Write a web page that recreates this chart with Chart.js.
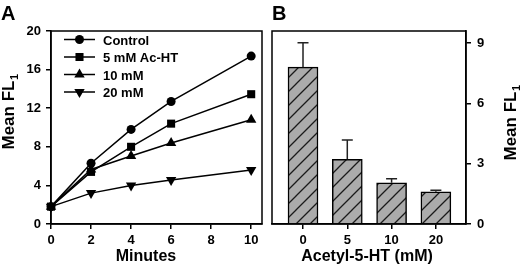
<!DOCTYPE html>
<html>
<head>
<meta charset="utf-8">
<script src="https://cdn.jsdelivr.net/npm/chart.js@4.4.1/dist/chart.umd.min.js"></script>
<style>
  body { margin: 0; background: #fff; }
  #wrap { position: relative; width: 520px; height: 270px; background: #fff; }
  canvas { position: absolute; top: 0; }
  #chart-a { left: 0; }
  #chart-b { left: 268px; }
</style>
</head>
<body>
<div id="wrap">
  <canvas id="chart-a" width="268" height="270"></canvas>
  <canvas id="chart-b" width="252" height="270"></canvas>
</div>
<script>
// ---- panel A: time course ----
const minutes = [0, 2, 4, 6, 10];
const control = [1.8, 6.3, 9.8, 12.7, 17.4];
const acHT5 = [1.8, 5.4, 8.0, 10.4, 13.45];
const acHT10 = [1.8, 5.65, 7.05, 8.4, 10.8];
const acHT20 = [1.8, 3.2, 4.0, 4.55, 5.6];
const seriesNames = ["Control", "5 mM Ac-HT", "10 mM", "20 mM"];
const minuteTicks = [0, 2, 4, 6, 8, 10];
const flTicksA = [0, 4, 8, 12, 16, 20];

// ---- panel B: dose response ----
const concLabels = ["0", "5", "10", "20"];
const meanFL = [7.8, 3.22, 2.05, 1.6];
const meanFLErr = [1.22, 0.96, 0.2, 0.08];
const flTicksB = [0, 3, 6, 9];

const FONT = "'Liberation Sans', Arial, Helvetica, sans-serif";
Chart.defaults.font.family = FONT;
Chart.defaults.font.weight = "bold";
Chart.defaults.color = "#000";

// marker styles per series
const markers = [
  { style: "circle", radius: 4.5, rotation: 0 },
  { style: "rect", radius: 5.7, rotation: 0 },
  { style: "triangle", radius: 6, rotation: 0 },
  { style: "triangle", radius: 6, rotation: 180 }
];

function drawMarker(ctx, m, x, y) {
  ctx.save();
  ctx.fillStyle = "#000";
  ctx.beginPath();
  if (m.style === "circle") {
    ctx.arc(x, y, m.radius, 0, Math.PI * 2);
  } else if (m.style === "rect") {
    const s = Math.SQRT1_2 * m.radius;
    ctx.rect(x - s, y - s, 2 * s, 2 * s);
  } else {
    let rad = m.rotation * Math.PI / 180;
    for (let i = 0; i < 3; i++) {
      const px = x + Math.sin(rad) * m.radius;
      const py = y - Math.cos(rad) * m.radius;
      if (i === 0) ctx.moveTo(px, py); else ctx.lineTo(px, py);
      rad += Math.PI * 2 / 3;
    }
    ctx.closePath();
  }
  ctx.fill();
  ctx.restore();
}

// box around plot area
const framePlugin = {
  id: "frame",
  afterDraw(chart) {
    const { ctx, chartArea: a } = chart;
    ctx.save();
    ctx.strokeStyle = "#000";
    ctx.lineWidth = 1.5;
    ctx.strokeRect(a.left, a.top, a.right - a.left, a.bottom - a.top);
    ctx.restore();
  }
};

// rotated y title with subscript
function drawMeanFL(ctx, x, y) {
  ctx.save();
  ctx.translate(x, y);
  ctx.rotate(-Math.PI / 2);
  ctx.fillStyle = "#000";
  ctx.textBaseline = "alphabetic";
  ctx.font = "bold 17px " + FONT;
  const main = "Mean FL";
  const w1 = ctx.measureText(main).width;
  ctx.font = "bold 11px " + FONT;
  const w2 = ctx.measureText("1").width;
  const start = -(w1 + w2) / 2;
  ctx.font = "bold 17px " + FONT;
  ctx.fillText(main, start, 0);
  ctx.font = "bold 11px " + FONT;
  ctx.fillText("1", start + w1 + 0.5, 4);
  ctx.restore();
}

function drawLabel(ctx, text, x, y, size, align) {
  ctx.save();
  ctx.fillStyle = "#000";
  ctx.font = "bold " + size + "px " + FONT;
  ctx.textAlign = align || "center";
  ctx.textBaseline = "alphabetic";
  ctx.fillText(text, x, y);
  ctx.restore();
}

// legend + titles for panel A
const panelAText = {
  id: "panelAText",
  afterDraw(chart) {
    const ctx = chart.ctx;
    const rows = [39.5, 57, 74.5, 92];
    rows.forEach((ry, i) => {
      ctx.save();
      ctx.strokeStyle = "#000";
      ctx.lineWidth = 1.5;
      ctx.beginPath();
      ctx.moveTo(64, ry);
      ctx.lineTo(95, ry);
      ctx.stroke();
      ctx.restore();
      drawMarker(ctx, markers[i], 79.5, ry);
      drawLabel(ctx, seriesNames[i], 103, ry + 5, 13, "left");
    });
    drawLabel(ctx, "A", 1, 20, 20, "left");
    drawLabel(ctx, "Minutes", 146, 261, 16);
    drawMeanFL(ctx, 14, 112);
  }
};

// error bars + titles for panel B
const panelBText = {
  id: "panelBText",
  afterDatasetsDraw(chart) {
    const ctx = chart.ctx;
    const meta = chart.getDatasetMeta(0);
    const yScale = chart.scales.y;
    ctx.save();
    ctx.strokeStyle = "#222";
    ctx.lineWidth = 1.5;
    meta.data.forEach((bar, i) => {
      const yTop = yScale.getPixelForValue(meanFL[i] + meanFLErr[i]);
      ctx.beginPath();
      ctx.moveTo(bar.x, bar.y);
      ctx.lineTo(bar.x, yTop);
      ctx.moveTo(bar.x - 5.5, yTop);
      ctx.lineTo(bar.x + 5.5, yTop);
      ctx.stroke();
    });
    ctx.restore();
  },
  afterDraw(chart) {
    const ctx = chart.ctx;
    drawLabel(ctx, "B", 4, 20, 20, "left");
    drawLabel(ctx, "Acetyl-5-HT (mM)", 99, 261, 16);
    drawMeanFL(ctx, 248, 123);
  }
};

// hatch pattern for bars
function makeHatch() {
  const size = 14;
  const c = document.createElement("canvas");
  c.width = size;
  c.height = size;
  const g = c.getContext("2d");
  g.fillStyle = "#ababab";
  g.fillRect(0, 0, size, size);
  g.strokeStyle = "#1a1a1a";
  g.lineWidth = 1.3;
  g.beginPath();
  g.moveTo(-2, size + 2);
  g.lineTo(size + 2, -2);
  g.moveTo(-2, 2);
  g.lineTo(2, -2);
  g.moveTo(size - 2, size + 2);
  g.lineTo(size + 2, size - 2);
  g.stroke();
  return g.createPattern(c, "repeat");
}

function axisBase(tickVals, fitProp, fitVal) {
  return {
    afterBuildTicks: (scale) => { scale.ticks = tickVals.map(v => ({ value: v })); },
    afterFit: (scale) => { scale[fitProp] = fitVal; },
    grid: { drawOnChartArea: false, drawTicks: true, tickLength: 5, color: "#000", lineWidth: 1.5 },
    border: { display: true, color: "#000", width: 1.5 },
    ticks: { color: "#000", font: { size: 13, weight: "bold" }, maxRotation: 0, autoSkip: false }
  };
}

const seriesData = [control, acHT5, acHT10, acHT20];

const chartA = new Chart(document.getElementById("chart-a"), {
  type: "line",
  data: {
    datasets: seriesData.map((vals, i) => ({
      label: seriesNames[i],
      data: minutes.map((m, j) => ({ x: m, y: vals[j] })),
      borderColor: "#000",
      backgroundColor: "#000",
      borderWidth: 1.5,
      pointStyle: markers[i].style,
      pointRadius: markers[i].radius,
      pointRotation: markers[i].rotation,
      pointBorderWidth: 0,
      tension: 0,
      clip: false
    }))
  },
  options: {
    responsive: false,
    animation: false,
    devicePixelRatio: 1,
    layout: { padding: { top: 31, right: 3, left: 0, bottom: 0 } },
    plugins: { legend: { display: false }, tooltip: { enabled: false } },
    scales: {
      x: Object.assign(axisBase(minuteTicks, "height", 46), {
        type: "linear", min: 0, max: 10.54
      }),
      y: Object.assign(axisBase(flTicksA, "width", 51), {
        type: "linear", min: 0, max: 20
      })
    }
  },
  plugins: [framePlugin, panelAText]
});
chartA.options.scales.x.ticks.padding = 4;
chartA.options.scales.y.ticks.padding = 5;
chartA.update();

const xB = axisBase([0, 1, 2, 3], "height", 46);
xB.ticks.callback = (v) => concLabels[v];
xB.ticks.padding = 4;
xB.grid.offset = false;
const yB = axisBase(flTicksB, "width", 54);
yB.ticks.padding = 6;

const chartB = new Chart(document.getElementById("chart-b"), {
  type: "bar",
  data: {
    datasets: [{
      label: "Mean FL1",
      data: meanFL.map((v, i) => ({ x: i, y: v })),
      backgroundColor: makeHatch(),
      borderColor: "#000",
      borderWidth: 1.5,
      borderSkipped: "bottom",
      barThickness: 30
    }]
  },
  options: {
    responsive: false,
    animation: false,
    devicePixelRatio: 1,
    layout: { padding: { top: 31, right: 0, left: 4, bottom: 0 } },
    plugins: { legend: { display: false }, tooltip: { enabled: false } },
    scales: {
      x: Object.assign(xB, { type: "linear", min: -0.7, max: 3.68, offset: false }),
      y: Object.assign(yB, { type: "linear", position: "right", min: 0, max: 9.6 })
    }
  },
  plugins: [framePlugin, panelBText]
});
</script>
</body>
</html>
